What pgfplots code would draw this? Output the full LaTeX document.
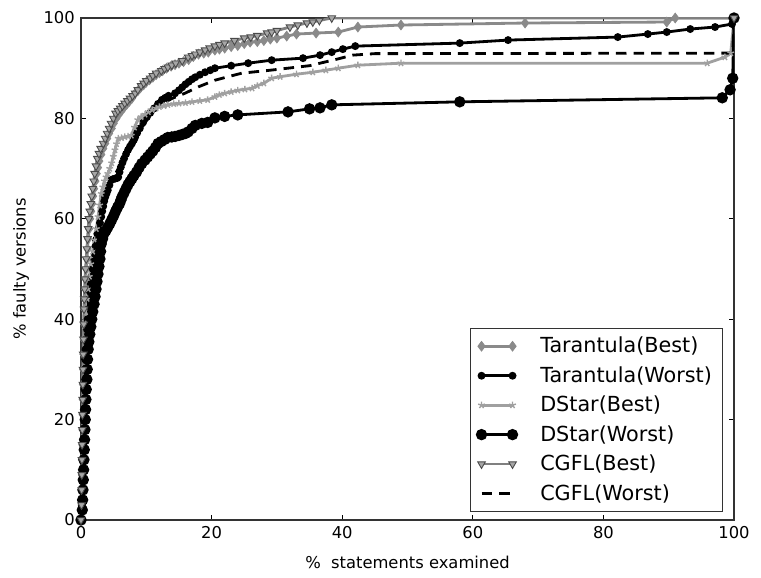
\documentclass[border=0pt]{standalone}
\usepackage{fontspec}
\setmainfont{DejaVu Sans}
\usepackage{pgfplots}
\pgfplotsset{compat=1.18}

\definecolor{tbest}{HTML}{8A8A8A}
\definecolor{dbest}{HTML}{A0A0A0}
\definecolor{cbest}{HTML}{808080}
\definecolor{cedge}{HTML}{4A4A4A}
\newcommand{\lgap}{\hspace*{0.40cm}}

\begin{document}
\begin{tikzpicture}[x=1cm,y=1cm]
\begin{axis}[
  at={(0,0)}, anchor=south west,
  scale only axis, width=13.06cm, height=10.04cm,
  xmin=0, xmax=100, ymin=0, ymax=100,
  xtick={0,20,40,60,80,100}, ytick={0,20,40,60,80,100},
  tick align=inside, major tick length=0.1cm,
  tick style={black, line width=0.5pt},
  axis line style={black!80, line width=0.8pt},
  tick label style={font=\fontsize{9.3}{11}\selectfont},
  /pgf/number format/assume math mode=true,
  xlabel={\%~~statements examined}, ylabel={\% faulty versions},
  label style={font=\fontsize{9.3}{11}\selectfont},
  xlabel style={yshift=-0.1cm}, ylabel style={yshift=0.05cm},
  legend style={at={(1,0)}, anchor=south east, xshift=-0.22cm, yshift=0.16cm,
    font=\fontsize{11.8}{14}\selectfont, draw=black!80, line width=0.6pt,
    row sep=2.3pt, inner xsep=4pt, inner ysep=3pt, cells={anchor=west}},
  legend image code/.code={
    \draw[#1] plot coordinates {(0cm,0cm) (0.62cm,0cm)};},
  every axis plot/.append style={line width=1.6pt},
]
% Tarantula(Best)
\addplot[tbest, mark=diamond*, mark size=2.8pt, mark options={fill=tbest, draw=tbest, line width=0.4pt}] coordinates {
  (0,0) (0.1,3) (0.12,6) (0.15,9) (0.17,12) (0.2,15) (0.22,18) (0.25,21) (0.28,24)
  (0.3,27) (0.33,30) (0.38,33) (0.43,36) (0.48,39) (0.52,42) (0.58,44) (0.65,46)
  (0.7,48) (0.8,50) (0.9,52) (1.0,54) (1.1,56) (1.25,58) (1.4,60) (1.55,61.5)
  (1.7,63) (1.85,64.5) (2.0,66) (2.2,67.5) (2.4,69) (2.6,70.2) (2.8,71.5) (3.1,72.8)
  (3.4,74) (3.7,75) (4.0,76) (4.3,77) (4.7,78) (5.0,79) (5.4,80) (5.8,80.8) (6.2,81.5)
  (6.6,82.2) (7.0,82.8) (7.4,83.4) (7.8,84) (8.2,84.8) (8.7,85.5) (9.1,86.1) (9.6,86.7)
  (10.0,87.2) (10.5,87.7) (11.0,88.2) (11.5,88.7) (12.0,89.1) (12.5,89.5) (13.1,90)
  (13.8,90.4) (14.4,90.7) (15,91) (15.7,91.3) (16.5,91.7) (17.2,92.3) (18,92.8)
  (18.8,93) (19.5,93.2) (20.5,93.6) (21.2,93.8) (22,94) (23,94.3) (24,94.5) (25,94.9)
  (25.9,95.2) (27,95.3) (28,95.5) (29,95.8) (30,96) (31.5,96.4) (33,96.8) (36,97)
  (39.4,97.2) (42.4,98.2) (49,98.6) (68,99) (89.7,99.2) (91,100) (100,100)
};
\addlegendentry{\lgap Tarantula(Best)}
% Tarantula(Worst)
\addplot[black, mark=*, mark size=1.4pt] coordinates {
  (0,0) (0.15,3) (0.18,6) (0.22,9) (0.26,12) (0.3,15) (0.34,18) (0.4,21) (0.45,24)
  (0.5,27) (0.55,30) (0.62,32) (0.7,34) (0.8,36) (0.9,38) (1.0,40) (1.1,42) (1.2,44)
  (1.35,45.5) (1.5,47) (1.65,48.5) (1.8,50) (1.95,51.5) (2.1,53) (2.2,54.5) (2.3,55.8)
  (2.5,57) (2.7,58) (2.9,59.2) (3.1,60.4) (3.25,61.5) (3.4,62.5) (3.55,63.5) (3.7,64.3)
  (3.9,65) (4.1,65.7) (4.35,66.7) (4.6,67.7) (4.9,67.9) (5.2,68) (5.5,68.1) (5.7,68.3)
  (5.9,69.3) (6.1,70.3) (6.35,71.2) (6.6,72) (6.9,72.9) (7.2,73.7) (7.5,74.4) (7.8,75)
  (8.1,75.7) (8.3,76.3) (8.6,77.1) (9.0,78) (9.5,79.2) (10.1,80.3) (10.6,81.1) (11.2,82)
  (11.8,82.9) (12.4,83.7) (12.9,84.1) (13.4,84.5) (14.4,85) (15,85.6) (15.5,86.2)
  (16,86.8) (16.5,87.3) (17,87.8) (17.5,88.2) (18.2,88.7) (19,89.2) (19.8,89.6)
  (20.5,90) (23,90.5) (25.6,91) (29.2,91.6) (34,92) (36.6,92.6) (38.4,93.2) (40.1,93.8)
  (42,94.4) (58,95) (65.4,95.6) (82.2,96.2) (86.8,96.8) (89.7,97.2) (93.3,97.8)
  (97.1,98.2) (99.7,98.8) (100,100)
};
\addlegendentry{\lgap Tarantula(Worst)}
% DStar(Best)
\addplot[dbest, mark=star, mark size=2pt, mark options={line width=0.8pt}] coordinates {
  (0,0) (0.1,3) (0.13,6) (0.17,9) (0.2,12) (0.23,15) (0.27,18) (0.3,21) (0.35,24)
  (0.4,27) (0.45,30) (0.55,33) (0.65,36) (0.75,39) (0.85,41.5) (1.0,44) (1.1,46)
  (1.3,48.5) (1.5,51) (1.8,53.5) (2.1,55.8) (2.35,58) (2.6,60.4) (2.85,62.7) (3.1,65)
  (3.35,66.3) (3.6,67.5) (3.85,68.3) (4.1,69) (4.4,70) (4.7,71.1) (4.95,72.4) (5.2,73.7)
  (5.45,74.9) (5.7,76) (6.2,76.1) (6.7,76.3) (7.2,76.4) (7.7,76.6) (8.2,78.2) (8.7,79.7)
  (9.2,80.3) (9.8,80.8) (10.3,81.3) (10.9,81.7) (11.5,82) (12,82.3) (12.7,82.5)
  (13.3,82.7) (14.2,82.9) (15,83) (16,83.1) (17,83.3) (18.2,83.5) (19.4,83.7)
  (20.5,84.3) (21.2,84.7) (22,85) (23,85.3) (24,85.6) (25.1,85.8) (26.2,86) (27,86.5)
  (28,87) (29.2,88) (30.5,88.3) (33,88.8) (35.5,89.2) (37.5,89.6) (39.4,90) (42.4,90.6)
  (49,91) (95.9,91) (98.6,92.2) (99.5,93) (100,100)
};
\addlegendentry{\lgap DStar(Best)}
% DStar(Worst)
\addplot[black, mark=*, mark size=2.4pt] coordinates {
  (0,0) (0.2,2) (0.25,4) (0.3,6) (0.35,8) (0.4,10) (0.45,12) (0.5,14) (0.55,16) (0.6,18)
  (0.65,20) (0.7,22) (0.75,24) (0.8,26) (0.9,28) (0.95,30) (1.0,32) (1.1,34) (1.2,35.5)
  (1.35,37) (1.5,38.5) (1.65,40) (1.8,41.5) (2.0,43) (2.15,44.5) (2.3,46) (2.45,47.5)
  (2.6,49) (2.75,50.5) (2.9,52) (3.0,53.5) (3.1,55) (3.3,56) (3.5,57) (3.8,57.6)
  (4.1,58.3) (4.4,59) (4.7,59.8) (5.0,60.6) (5.3,61.5) (5.6,62.3) (5.9,63) (6.1,63.7)
  (6.3,64.4) (6.6,65.2) (6.9,66) (7.2,66.8) (7.5,67.4) (7.8,68) (8.1,68.6) (8.5,69.3)
  (8.9,70.2) (9.3,71) (9.8,71.7) (10.2,72.3) (10.6,72.9) (11.0,73.5) (11.4,74.2)
  (11.8,75) (12.3,75.4) (12.8,75.8) (13.3,76.2) (13.9,76.3) (14.4,76.4) (15.0,76.6)
  (15.5,76.8) (16.0,77) (16.4,77.3) (17.0,78) (17.5,78.6) (18.5,79) (19.4,79.2)
  (20.5,80.1) (22,80.4) (24,80.7) (31.7,81.3) (35,81.9) (36.6,82.1) (38.4,82.7)
  (58,83.3) (98.2,84.1) (99.4,85.7) (99.8,88) (100,100)
};
\addlegendentry{\lgap DStar(Worst)}
% CGFL(Best)
\addplot[cbest, mark=triangle*, mark size=2.5pt, mark options={rotate=180, fill=cbest!70, draw=cedge, line width=0.5pt}] coordinates {
  (0,0) (0.08,3) (0.1,6) (0.12,9) (0.14,12) (0.17,15) (0.2,18) (0.22,21) (0.25,24)
  (0.28,27) (0.3,30) (0.34,33) (0.38,36) (0.42,39) (0.46,42) (0.5,44) (0.55,46)
  (0.6,48) (0.7,50) (0.8,52) (0.9,54) (1.0,56) (1.1,58) (1.2,60) (1.35,61.5) (1.5,63)
  (1.65,64.5) (1.8,66) (1.95,67.5) (2.1,69) (2.3,70.5) (2.5,72) (2.75,73) (3.0,74)
  (3.4,75) (3.7,76) (4.0,77) (4.3,78) (4.6,79) (4.95,80) (5.3,81) (5.65,81.5) (6.0,82)
  (6.35,82.5) (6.7,83) (7.1,83.5) (7.5,84) (7.9,84.5) (8.3,85) (8.7,85.7) (9.2,86.5)
  (9.6,87) (10.0,87.5) (10.6,88) (11.0,88.5) (11.5,89) (12.3,89.5) (12.8,89.9)
  (13.3,90.2) (13.9,90.6) (14.5,91) (15.5,91.5) (16.4,92.2) (17,92.5) (17.5,92.8)
  (18.2,93.2) (19,93.6) (19.7,94) (20.5,94.4) (21.2,94.7) (22,95) (23.5,95.5) (25,96)
  (26,96.2) (27,96.5) (28.5,97) (29.2,97.2) (30,97.5) (32,98.2) (33.2,98.6) (34.6,99)
  (35.5,99.2) (36.5,99.5) (38.4,100) (100,100)
};
\addlegendentry{\lgap CGFL(Best)}
% CGFL(Worst)
\addplot[black, dashed, dash pattern=on 6pt off 4pt] coordinates {
  (0,0) (0.15,5) (0.25,10) (0.35,15) (0.45,20) (0.55,25) (0.65,30) (0.8,35) (1.0,40)
  (1.2,44) (1.5,47) (1.8,50) (2.1,53) (2.4,56) (2.8,58.5) (3.2,61) (3.7,64) (4.2,66)
  (4.8,68) (5.5,69.5) (6.1,71) (7,73.5) (8,75.5) (9,77.5) (10,79.5) (11.2,81.5)
  (12.5,83) (14,84) (15.9,85) (18,86.3) (20.5,87.6) (22.5,88.3) (24.6,89) (29,89.6)
  (35,90.5) (39.2,91.8) (41.6,92.6) (45,92.9) (99.8,93) (100,100)
};
\addlegendentry{\lgap CGFL(Worst)}
\end{axis}
\pgfresetboundingbox
\path (-1.62,-1.14) rectangle (13.60,10.40);
\end{tikzpicture}
\end{document}
